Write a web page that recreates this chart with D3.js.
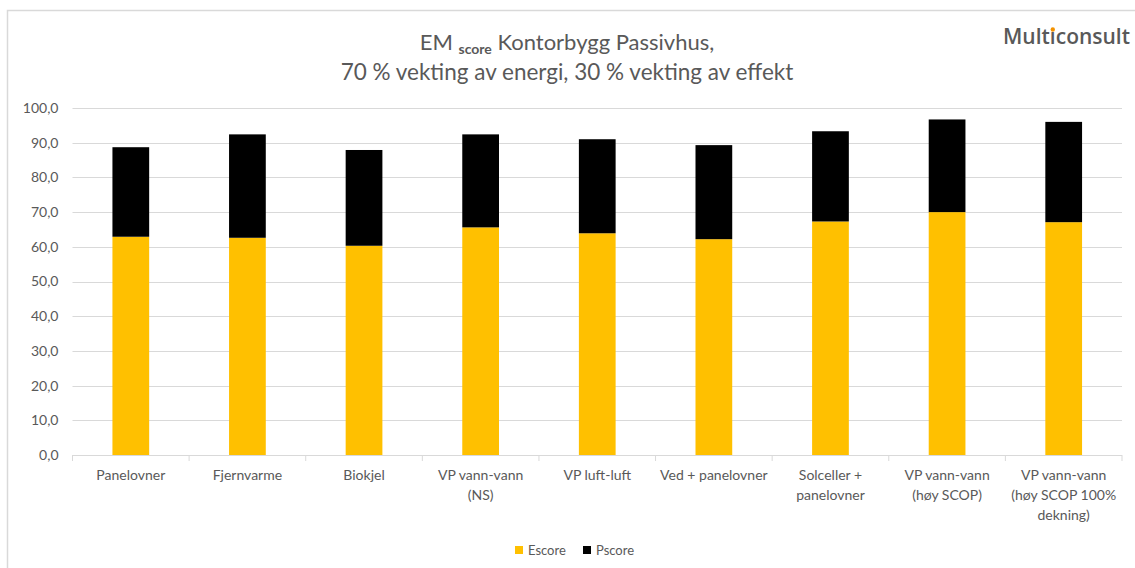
<!DOCTYPE html>
<html>
<head>
<meta charset="utf-8">
<script src="https://cdn.jsdelivr.net/npm/d3@7"></script>
<style>
  html, body { margin: 0; padding: 0; background: #fff; }
  svg { display: block; }
  text { font-family: Lato, "Open Sans", sans-serif; }
</style>
</head>
<body>
<svg id="chart" width="1135" height="568"></svg>
<script>
// Heating alternatives (labels wrap on "\n")
const categories = [
  "Panelovner",
  "Fjernvarme",
  "Biokjel",
  "VP vann-vann\n(NS)",
  "VP luft-luft",
  "Ved + panelovner",
  "Solceller +\npanelovner",
  "VP vann-vann\n(høy SCOP)",
  "VP vann-vann\n(høy SCOP 100%\ndekning)"
];
const escore = [62.9, 62.6, 60.3, 65.6, 63.9, 62.2, 67.3, 70.0, 67.1];
const pscore = [25.8, 29.8, 27.6, 26.8, 27.1, 27.1, 26.0, 26.7, 28.9];
const seriesNames = ["Escore", "Pscore"];
const seriesColors = ["#FFC000", "#000000"];
const yTicks = [0, 10, 20, 30, 40, 50, 60, 70, 80, 90, 100];

const svg = d3.select("#chart");
const W = 1135, H = 568;
const plot = { left: 72.5, right: 1122, top: 108, bottom: 455 };

// chart frame
svg.append("path")
  .attr("d", `M7.5,${H} V10.5 H${W}`)
  .attr("fill", "none").attr("stroke", "#d9d9d9").attr("stroke-width", 1.5);

// stacked data
const rows = categories.map((c, i) => ({ cat: c, Escore: escore[i], Pscore: pscore[i] }));
const stacked = d3.stack().keys(seriesNames)(rows);

const x = d3.scaleBand().domain(categories).range([plot.left, plot.right])
  .paddingInner(0.685).paddingOuter(0.3425);
const y = d3.scaleLinear().domain([0, 100]).range([plot.bottom, plot.top]);
const fmt = v => d3.format(".1f")(v).replace(".", ",");

// gridlines
svg.append("g").selectAll("line").data(yTicks.filter(d => d > 0)).join("line")
  .attr("x1", plot.left).attr("x2", plot.right)
  .attr("y1", d => Math.round(y(d)) + 0.5).attr("y2", d => Math.round(y(d)) + 0.5)
  .attr("stroke", "#d9d9d9").attr("stroke-width", 1);

// y axis labels
const yAxis = d3.axisLeft(y).tickValues(yTicks).tickFormat(fmt).tickSize(0).tickPadding(14);
const gy = svg.append("g").attr("transform", `translate(${plot.left},0)`).call(yAxis);
gy.select(".domain").remove();
gy.selectAll("text").attr("fill", "#595959").style("font-size", "14px")
  .style("font-family", "Lato, 'Open Sans', sans-serif");

// bars
svg.append("g").selectAll("g").data(stacked).join("g")
  .attr("fill", (d, i) => seriesColors[i])
  .selectAll("rect").data(d => d).join("rect")
  .attr("x", d => x(d.data.cat))
  .attr("width", x.bandwidth())
  .attr("y", d => y(d[1]))
  .attr("height", d => y(d[0]) - y(d[1]));

// x axis with category dividers
const xAxis = d3.axisBottom(x).tickSize(0).tickFormat("");
const gx = svg.append("g").attr("transform", `translate(0,${plot.bottom})`).call(xAxis);
gx.select(".domain").attr("stroke", "#d9d9d9").attr("d", `M${plot.left},0.5H${plot.right}`);
const step = x.step();
const edges = d3.range(categories.length + 1).map(i => plot.left + i * step);
gx.selectAll("line.div").data(edges).join("line").attr("class", "div")
  .attr("x1", d => d).attr("x2", d => d).attr("y1", 0).attr("y2", 6)
  .attr("stroke", "#d9d9d9");

// category labels
const lab = svg.append("g").selectAll("text").data(categories).join("text")
  .attr("x", d => x(d) + x.bandwidth() / 2)
  .attr("y", 480)
  .attr("text-anchor", "middle")
  .attr("fill", "#595959").style("font-size", "14px");
lab.selectAll("tspan").data(d => d.split("\n")).join("tspan")
  .attr("x", function () { return d3.select(this.parentNode).attr("x"); })
  .attr("dy", (d, i) => i === 0 ? 0 : 20)
  .text(d => d);

// title
const title = svg.append("text").attr("x", 567).attr("y", 50)
  .attr("text-anchor", "middle").attr("fill", "#595959").style("font-size", "22px");
title.append("tspan").text("EM ");
title.append("tspan").text("score").style("font-size", "14px").attr("dy", 4).style("font-weight", "bold");
title.append("tspan").text(" Kontorbygg Passivhus,").attr("dy", -4);
svg.append("text").attr("x", 567).attr("y", 80)
  .attr("text-anchor", "middle").attr("fill", "#595959").style("font-size", "22.5px")
  .text("70 % vekting av energi, 30 % vekting av effekt");

// logo
const logo = svg.append("text").attr("x", 1003).attr("y", 44)
  .attr("fill", "#595959").style("font-size", "21px").style("font-weight", "600")
  .style("font-family", "'Open Sans', sans-serif");
logo.append("tspan").text("Mult");
logo.append("tspan").text("ı");
logo.append("tspan").text("consult");
const pre = logo.node().getSubStringLength(0, 4);
const iw = logo.node().getSubStringLength(4, 1);
svg.append("circle").attr("cx", 1003 + pre + iw / 2).attr("cy", 29.5).attr("r", 2.2).attr("fill", "#F39200");

// legend
const legend = svg.append("g").attr("transform", "translate(515,550)");
const items = [{ name: seriesNames[0], color: seriesColors[0], x: 0 }, { name: seriesNames[1], color: seriesColors[1], x: 68 }];
const li = legend.selectAll("g").data(items).join("g").attr("transform", d => `translate(${d.x},0)`);
li.append("rect").attr("x", 0).attr("y", -4).attr("width", 8).attr("height", 8).attr("fill", d => d.color);
li.append("text").attr("x", 13).attr("y", 5).attr("fill", "#595959").style("font-size", "13px").text(d => d.name);
</script>
</body>
</html>
